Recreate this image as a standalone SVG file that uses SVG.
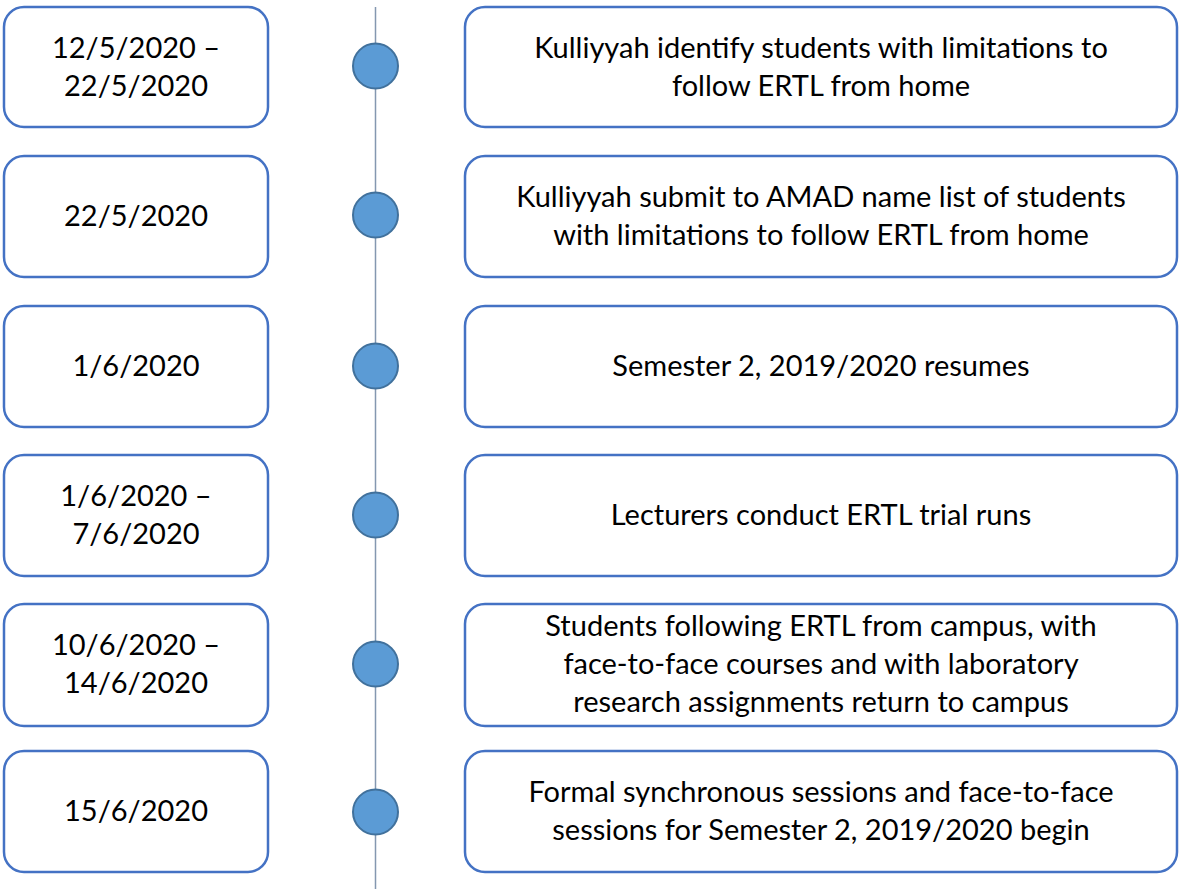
<svg xmlns="http://www.w3.org/2000/svg" width="1179" height="889" viewBox="0 0 1179 889">
  <style>
    .box { fill: #ffffff; stroke: #4472C4; stroke-width: 2.5; }
    .dot { fill: #5B9BD5; stroke: #41719C; stroke-width: 2; }
    .axis { stroke: #8497B0; stroke-width: 1.5; fill: none; }
    text { font-family: Lato, "Open Sans", "Liberation Sans", sans-serif; font-size: 29px; fill: #000000; text-anchor: middle; }
  </style>
  <rect width="1179" height="889" fill="#ffffff"/>

  <!-- timeline axis -->
  <g id="connectors">
    <line class="axis" x1="375.5" y1="7" x2="375.5" y2="889"/>
  </g>

  <!-- row 1 -->
  <g id="date1">
    <rect class="box" x="4" y="7" width="264" height="120" rx="20"/>
    <text x="136" y="58">12/5/2020 –</text>
    <text x="136" y="96">22/5/2020</text>
  </g>
  <g id="dot1"><circle class="dot" cx="375.5" cy="66" r="22.5"/></g>
  <g id="event1">
    <rect class="box" x="465" y="7" width="712" height="120" rx="20"/>
    <text x="821" y="58">Kulliyyah identify students with limitations to</text>
    <text x="821" y="96">follow ERTL from home</text>
  </g>

  <!-- row 2 -->
  <g id="date2">
    <rect class="box" x="4" y="156" width="264" height="121" rx="20"/>
    <text x="136" y="226">22/5/2020</text>
  </g>
  <g id="dot2"><circle class="dot" cx="375.5" cy="215" r="22.5"/></g>
  <g id="event2">
    <rect class="box" x="465" y="156" width="712" height="121" rx="20"/>
    <text x="821" y="207">Kulliyyah submit to AMAD name list of students</text>
    <text x="821" y="245">with limitations to follow ERTL from home</text>
  </g>

  <!-- row 3 -->
  <g id="date3">
    <rect class="box" x="4" y="306" width="264" height="121" rx="20"/>
    <text x="136" y="376">1/6/2020</text>
  </g>
  <g id="dot3"><circle class="dot" cx="375.5" cy="366" r="22.5"/></g>
  <g id="event3">
    <rect class="box" x="465" y="306" width="712" height="121" rx="20"/>
    <text x="821" y="376">Semester 2, 2019/2020 resumes</text>
  </g>

  <!-- row 4 -->
  <g id="date4">
    <rect class="box" x="4" y="455" width="264" height="121" rx="20"/>
    <text x="136" y="506">1/6/2020 –</text>
    <text x="136" y="544">7/6/2020</text>
  </g>
  <g id="dot4"><circle class="dot" cx="375.5" cy="515" r="22.5"/></g>
  <g id="event4">
    <rect class="box" x="465" y="455" width="712" height="121" rx="20"/>
    <text x="821" y="525">Lecturers conduct ERTL trial runs</text>
  </g>

  <!-- row 5 -->
  <g id="date5">
    <rect class="box" x="4" y="604" width="264" height="122" rx="20"/>
    <text x="136" y="655">10/6/2020 –</text>
    <text x="136" y="693">14/6/2020</text>
  </g>
  <g id="dot5"><circle class="dot" cx="375.5" cy="664" r="22.5"/></g>
  <g id="event5">
    <rect class="box" x="465" y="604" width="712" height="122" rx="20"/>
    <text x="821" y="636">Students following ERTL from campus, with</text>
    <text x="821" y="674">face-to-face courses and with laboratory</text>
    <text x="821" y="712">research assignments return to campus</text>
  </g>

  <!-- row 6 -->
  <g id="date6">
    <rect class="box" x="4" y="751" width="264" height="121" rx="20"/>
    <text x="136" y="821">15/6/2020</text>
  </g>
  <g id="dot6"><circle class="dot" cx="375.5" cy="812" r="22.5"/></g>
  <g id="event6">
    <rect class="box" x="465" y="751" width="712" height="121" rx="20"/>
    <text x="821" y="802">Formal synchronous sessions and face-to-face</text>
    <text x="821" y="840">sessions for Semester 2, 2019/2020 begin</text>
  </g>
</svg>
